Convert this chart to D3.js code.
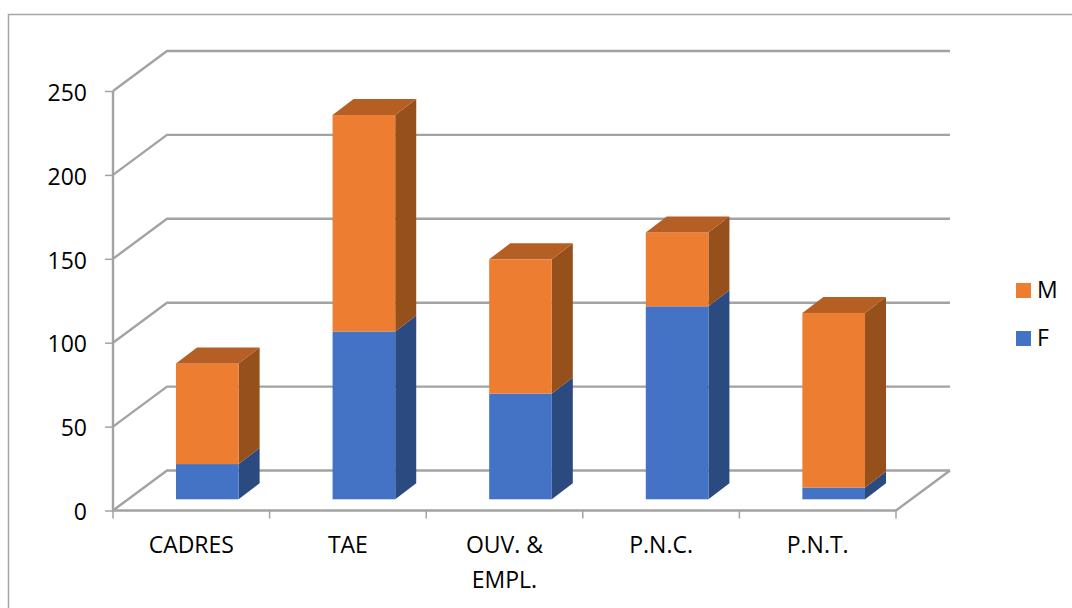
<!DOCTYPE html>
<html>
<head>
<meta charset="utf-8">
<script src="https://cdn.jsdelivr.net/npm/d3@7"></script>
<style>
html, body { margin: 0; padding: 0; background: #fff; overflow: hidden; }
svg { display: block; }
text { font-family: "Open Sans", sans-serif; font-size: 23px; fill: #000; }
</style>
</head>
<body>
<div id="chart"></div>
<script>
const categories = ["CADRES", "TAE", "OUV. & EMPL.", "P.N.C.", "P.N.T."];
const valuesF = [21, 100, 63, 115, 7];
const valuesM = [60, 129, 80, 44, 104];
const yTicks = [0, 50, 100, 150, 200, 250];
const seriesNames = ["F", "M"];

const width = 1072;
const height = 608;
const grey = "#a3a3a3";

const front = { left: 113, right: 896, bottom: 510.5, top: 91 };
const wall = { dx: 54, dy: -40 };   // floor depth
const barPlane = { dx: 16, dy: -11.2 };  // where the bars stand on the floor
const barDepth = { dx: 21, dy: -16 };

const colors = {
    F: { front: "#4472c4", side: "#2b4a80", top: "#3a62a8" },
    M: { front: "#ed7d31", side: "#95501c", top: "#b55f24" }
};

const svg = d3.select("#chart").append("svg")
    .attr("width", width)
    .attr("height", height);

const x = d3.scaleBand()
    .domain(categories)
    .range([front.left, front.right])
    .paddingInner(0)
    .paddingOuter(0);

const y = d3.scaleLinear()
    .domain([0, 250])
    .range([front.bottom, front.top]);

const barWidth = x.bandwidth() * 0.4;

// outer chart border, runs off the picture on the right and bottom
svg.append("path")
    .attr("d", `M8.5,${height} V14.5 H${width}`)
    .attr("fill", "none")
    .attr("stroke", "#a6a6a6")
    .attr("stroke-width", 1.5);

// walls and floor
const grid = svg.append("g")
    .attr("fill", "none")
    .attr("stroke", grey)
    .attr("stroke-width", 2.4);

grid.selectAll("path.grid")
    .data(yTicks)
    .join("path")
    .attr("class", "grid")
    .attr("d", d => `M${front.left},${y(d)} L${front.left + wall.dx},${y(d) + wall.dy} H${front.right + wall.dx}`);

grid.append("path")
    .attr("d", `M${front.left},${y(250)} V${y(0)} H${front.right} L${front.right + wall.dx},${y(0) + wall.dy}`);

// axes, only the ticks and labels are used from them
const yAxis = svg.append("g")
    .attr("transform", `translate(${front.left},0)`)
    .call(d3.axisLeft(y).tickValues(yTicks).tickSize(8).tickPadding(18));
yAxis.select(".domain").remove();
yAxis.selectAll("line").attr("stroke", grey).attr("stroke-width", 1.5);
yAxis.selectAll("text")
    .style("font-size", "23px")
    .style("font-family", '"Open Sans", sans-serif')
    .attr("fill", "#000")
    .attr("dy", "0.4em");

const xTickValues = categories.map(c => x(c)).concat([front.right]);
svg.append("g")
    .selectAll("line")
    .data(xTickValues)
    .join("line")
    .attr("x1", d => d)
    .attr("x2", d => d)
    .attr("y1", front.bottom)
    .attr("y2", front.bottom + 8)
    .attr("stroke", grey)
    .attr("stroke-width", 1.5);

// category labels, long ones break on two lines
svg.append("g")
    .selectAll("text")
    .data(categories)
    .join("text")
    .attr("text-anchor", "middle")
    .attr("x", d => x(d) + x.bandwidth() / 2)
    .attr("y", 553)
    .each(function(d) {
        const lines = d === "OUV. & EMPL." ? ["OUV. &", "EMPL."] : [d];
        d3.select(this).selectAll("tspan")
            .data(lines)
            .join("tspan")
            .attr("x", x(d) + x.bandwidth() / 2)
            .attr("dy", (l, i) => i ? 35 : 0)
            .text(l => l);
    });

// stacked bars
const rows = categories.map((c, i) => ({ category: c, F: valuesF[i], M: valuesM[i] }));
const stacked = d3.stack().keys(seriesNames)(rows);

const barX = d => x(d.data.category) + (x.bandwidth() - barWidth) / 2 + barPlane.dx;
const yPlane = v => y(v) + barPlane.dy;

const layers = svg.append("g")
    .selectAll("g")
    .data(stacked)
    .join("g");

// side faces
layers.selectAll("path.side")
    .data(s => s.map(d => ({ ...d, key: s.key })))
    .join("path")
    .attr("class", "side")
    .attr("fill", d => colors[d.key].side)
    .attr("d", d => {
        const r = barX(d) + barWidth;
        return `M${r},${yPlane(d[0])} L${r + barDepth.dx},${yPlane(d[0]) + barDepth.dy}`
            + ` V${yPlane(d[1]) + barDepth.dy} L${r},${yPlane(d[1])} Z`;
    });

// front faces
layers.selectAll("rect.front")
    .data(s => s.map(d => ({ ...d, key: s.key })))
    .join("rect")
    .attr("class", "front")
    .attr("fill", d => colors[d.key].front)
    .attr("x", barX)
    .attr("width", barWidth)
    .attr("y", d => yPlane(d[1]))
    .attr("height", d => yPlane(d[0]) - yPlane(d[1]));

// top faces, only the last series shows one
svg.append("g")
    .selectAll("path")
    .data(stacked[stacked.length - 1])
    .join("path")
    .attr("fill", colors.M.top)
    .attr("d", d => {
        const l = barX(d);
        const t = yPlane(d[1]);
        return `M${l},${t} L${l + barDepth.dx},${t + barDepth.dy} H${l + barWidth + barDepth.dx} L${l + barWidth},${t} Z`;
    });

// legend
const legend = svg.append("g")
    .selectAll("g")
    .data(["M", "F"])
    .join("g")
    .attr("transform", (d, i) => `translate(1016,${283 + i * 48})`);

legend.append("rect")
    .attr("width", 15)
    .attr("height", 15)
    .attr("fill", d => colors[d].front);

legend.append("text")
    .attr("x", 21)
    .attr("y", 15)
    .text(d => d);
</script>
</body>
</html>
